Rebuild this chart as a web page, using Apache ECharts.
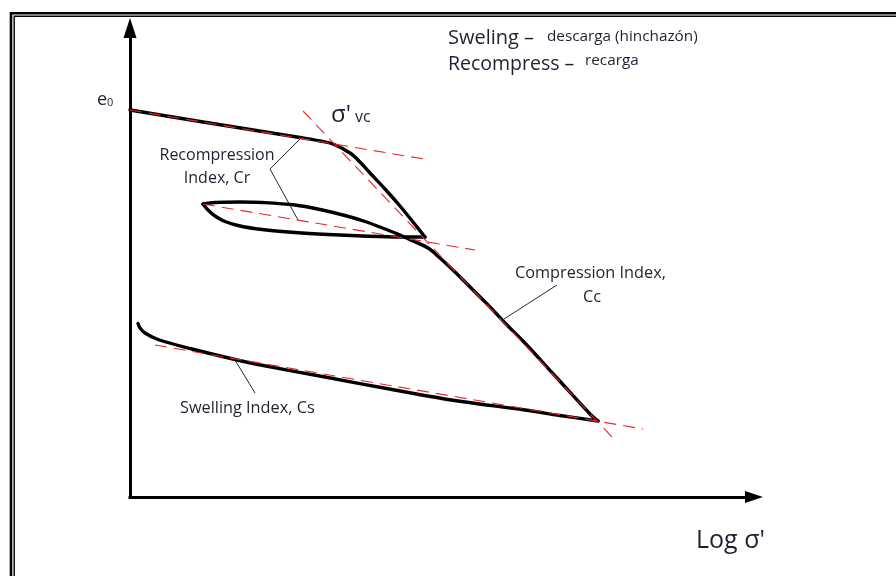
<!DOCTYPE html>
<html>
<head>
<meta charset="utf-8">
<script src="https://cdn.jsdelivr.net/npm/echarts@6/dist/echarts.min.js"></script>
<style>
  html, body { margin: 0; padding: 0; background: #fff; }
  #chart { width: 896px; height: 576px; }
</style>
</head>
<body>
<div id="chart"></div>
<script>
// Void ratio e versus log of effective stress (schematic oedometer curve).
// x = log σ' (arbitrary units), y = e (arbitrary units)

// Initial recompression branch, bending through σ'vc and down to the first unload point
const virginUpper = [
  [0.00, 3.87], [0.70, 3.755], [1.20, 3.675], [1.70, 3.595], [1.90, 3.56],
  [2.03, 3.53], [2.20, 3.44], [2.30, 3.35], [2.40, 3.24], [2.55, 3.08],
  [2.70, 2.91], [2.83, 2.75], [2.95, 2.60]
];
// Unloading branch of the hysteresis loop
const loopUnload = [
  [2.95, 2.60], [2.70, 2.60], [2.32, 2.61], [1.98, 2.625], [1.65, 2.645],
  [1.32, 2.675], [1.10, 2.71], [0.95, 2.755], [0.85, 2.81], [0.78, 2.87], [0.73, 2.93]
];
// Reloading branch, rejoining the virgin compression line
const loopReloadVirgin = [
  [0.73, 2.93], [0.85, 2.945], [1.10, 2.95], [1.32, 2.945], [1.65, 2.92],
  [1.90, 2.875], [2.15, 2.815], [2.35, 2.755], [2.55, 2.68], [2.70, 2.62],
  [2.82, 2.565], [2.98, 2.49], [3.10, 2.39], [3.25, 2.25], [3.43, 2.07],
  [3.60, 1.90], [3.75, 1.74], [3.93, 1.56], [4.27, 1.19], [4.60, 0.83], [4.68, 0.76]
];
// Final unloading (swelling) branch
const swelling = [
  [4.68, 0.76], [4.30, 0.815], [3.95, 0.87], [3.28, 0.96], [2.62, 1.075],
  [1.95, 1.20], [1.28, 1.325], [1.05, 1.375], [0.62, 1.48], [0.28, 1.575],
  [0.15, 1.64], [0.10, 1.69], [0.08, 1.735]
];

// Straight construction lines (indices)
const tangentCr1 = [[0.00, 3.87], [3.00, 3.37]];
const tangentCr2 = [[0.73, 2.93], [3.45, 2.47]];
const tangentCc  = [[1.73, 3.86], [4.85, 0.57]];
const tangentCs  = [[0.25, 1.52], [5.13, 0.68]];

// Leader lines from the labels to the curves
const leaderCr = [[1.70, 3.58], [1.40, 3.28], [1.68, 2.77]];
const leaderCc = [[4.27, 2.12], [3.74, 1.78]];
const leaderCs = [[1.05, 1.37], [1.25, 1.04]];

const FONT = '"Open Sans", "Noto Sans", sans-serif';
const INK = '#1f2130';

const chart = echarts.init(document.getElementById('chart'), null, { renderer: 'canvas' });

function curve(data) {
  return {
    type: 'line', data: data, smooth: 0.35, showSymbol: false, silent: true, z: 3,
    lineStyle: { color: '#000', width: 3.4, cap: 'round', join: 'round' }
  };
}
function dashed(data) {
  return {
    type: 'line', data: data, showSymbol: false, silent: true, z: 4,
    lineStyle: { color: '#e8262b', width: 1.1, type: [12, 7] }
  };
}
function leader(data) {
  return {
    type: 'line', data: data, showSymbol: false, silent: true, z: 2,
    lineStyle: { color: '#2a2a2a', width: 1 }
  };
}
function txt(x, y, s, size, align) {
  return {
    type: 'text', x: x, y: y, silent: true, z: 10,
    style: {
      text: s, fill: INK, fontFamily: FONT, fontSize: size,
      textAlign: align || 'left', textVerticalAlign: 'middle'
    }
  };
}

const hiddenBits = {
  axisTick: { show: false }, axisLabel: { show: false }, splitLine: { show: false }
};

chart.setOption({
  backgroundColor: '#fff',
  animation: false,
  grid: { left: 130, right: 142, top: 28, bottom: 79 },
  xAxis: Object.assign({
    type: 'value', min: 0, max: 6.24,
    axisLine: {
      show: true, symbol: ['none', 'triangle'], symbolSize: [12, 18],
      lineStyle: { color: '#000', width: 3, cap: 'square' }
    }
  }, hiddenBits),
  yAxis: Object.assign({
    type: 'value', min: 0, max: 4.69,
    axisLine: {
      show: true, symbol: ['none', 'triangle'], symbolSize: [13, 20],
      lineStyle: { color: '#000', width: 3, cap: 'square' }
    }
  }, hiddenBits),
  series: [
    leader(leaderCr), leader(leaderCc), leader(leaderCs),
    curve(virginUpper), curve(loopUnload), curve(loopReloadVirgin), curve(swelling),
    dashed(tangentCr1), dashed(tangentCr2), dashed(tangentCc), dashed(tangentCs)
  ],
  graphic: [
    // double page frame
    { type: 'rect', silent: true, shape: { x: 11, y: 13.25, width: 1000, height: 1000 },
      style: { fill: 'none', stroke: '#000', lineWidth: 2.6 } },
    { type: 'rect', silent: true, shape: { x: 14.2, y: 16.2, width: 1000, height: 1000 },
      style: { fill: 'none', stroke: '#000', lineWidth: 1.4 } },

    txt(448, 38, 'Sweling –', 20),
    txt(547, 37, 'descarga (hinchazón)', 15.3),
    txt(448, 64, 'Recompress –', 19.5),
    txt(585, 61, 'recarga', 15.3),

    txt(97, 100, 'e', 18),
    txt(107, 103, '0', 11),

    txt(331, 115, 'σ\'', 24),
    txt(355, 117, 'vc', 16),

    txt(217, 155, 'Recompression', 16, 'center'),
    txt(217, 178, 'Index, Cr', 16, 'center'),
    txt(515, 273, 'Compression Index,', 16.3),
    txt(592, 297, 'Cc', 16.3, 'center'),
    txt(180, 408, 'Swelling Index, Cs', 16.3),

    txt(696, 541, 'Log σ\'', 25)
  ]
});
</script>
</body>
</html>
